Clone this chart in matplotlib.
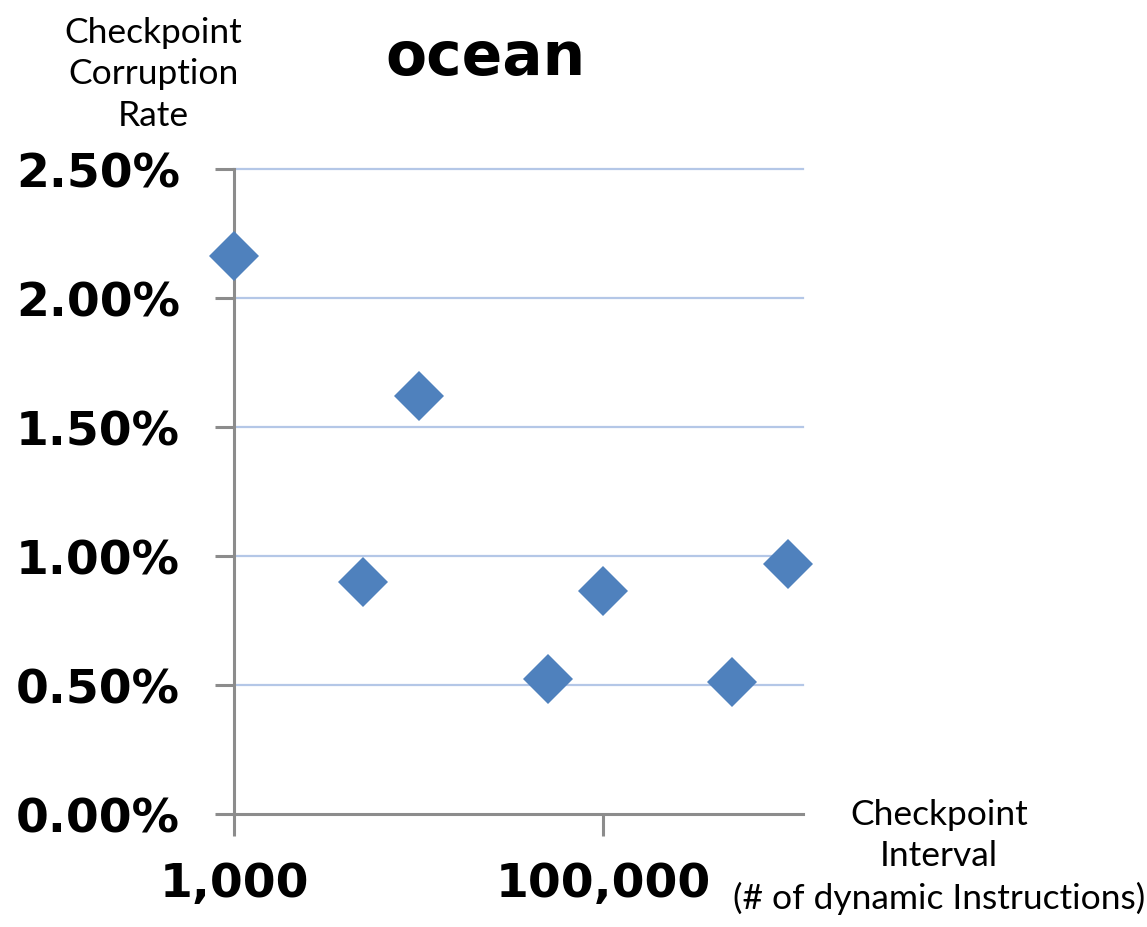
import matplotlib.pyplot as plt
from matplotlib.ticker import FixedLocator, FuncFormatter

# checkpoint interval (# dynamic instructions) vs corruption rate (%)
intervals = [1000, 5000, 10000, 50000, 100000, 500000, 1000000]
rates = [2.163, 0.899, 1.620, 0.523, 0.864, 0.512, 0.969]
y_ticks = [0.0, 0.5, 1.0, 1.5, 2.0, 2.5]
x_ticks = [1000, 100000]

blue = '#4f81bd'
grey = '#8c8c8c'

fig = plt.figure(figsize=(11.47, 9.28), dpi=100)
ax = fig.add_axes([0.204, 0.1218, 0.496, 0.695])

ax.set_xscale('log')
ax.set_xlim(1000, 1.21e6)
ax.set_ylim(0, 2.5)

for y in y_ticks[1:]:
    ax.axhline(y, color='#b4c7e7', lw=1.6, zorder=1, clip_on=False)

ax.plot(intervals, rates, ls='none', marker='D', markersize=25.5,
        color=blue, markeredgewidth=0, zorder=3, clip_on=False)

for s in ['top', 'right']:
    ax.spines[s].set_visible(False)
for s in ['left', 'bottom']:
    ax.spines[s].set_color(grey)
    ax.spines[s].set_linewidth(2.2)
    ax.spines[s].set_zorder(2)

ax.yaxis.set_major_locator(FixedLocator(y_ticks))
ax.yaxis.set_major_formatter(FuncFormatter(lambda v, p: '%.2f%%' % v))
ax.xaxis.set_major_locator(FixedLocator(x_ticks))
ax.xaxis.set_minor_locator(FixedLocator([]))
ax.xaxis.set_major_formatter(FuncFormatter(lambda v, p: '{:,.0f}'.format(v)))

ax.tick_params(axis='y', length=14, width=2.2, color=grey, pad=25,
               labelsize=34)
ax.tick_params(axis='x', length=16, width=2.2, color=grey, pad=18,
               labelsize=34)
for lab in ax.get_xticklabels() + ax.get_yticklabels():
    lab.set_fontweight('bold')

fig.text(0.423, 0.937, 'ocean', ha='center', va='center',
         fontsize=43, fontweight='bold')

fig.text(0.1334, 0.920, 'Checkpoint\nCorruption\nRate', ha='center',
         va='center', fontsize=25.5, family='Lato', linespacing=1.36)
fig.text(0.8187, 0.0765, 'Checkpoint\nInterval\n(# of dynamic Instructions)',
         ha='center', va='center', fontsize=25.5, family='Lato',
         linespacing=1.36)

fig.savefig('out.png', dpi=100)
